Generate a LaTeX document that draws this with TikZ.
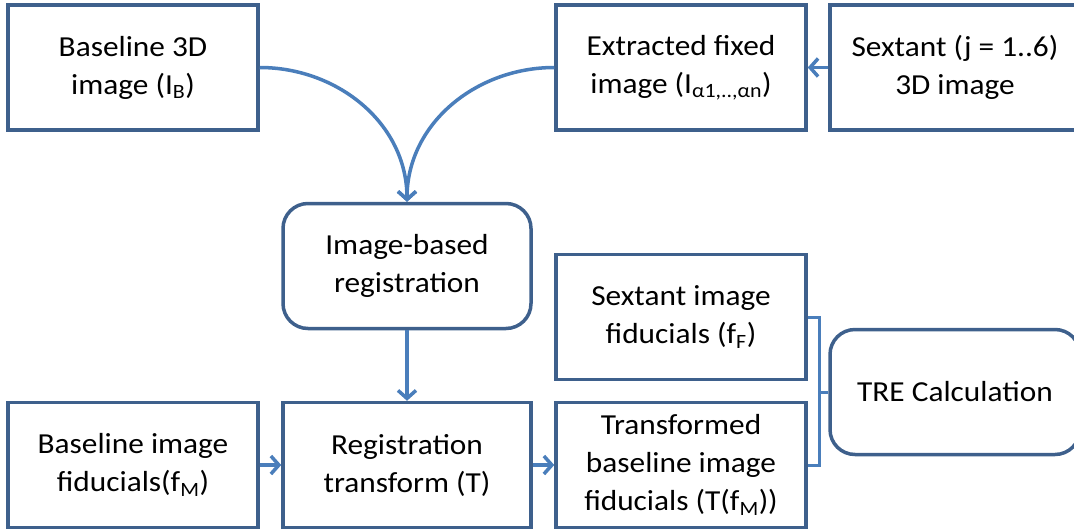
\documentclass[tikz,border=0pt]{standalone}
\usepackage{fontspec}
\setmainfont{Carlito}[FakeStretch=1.08]
\usetikzlibrary{arrows.meta}
\definecolor{boxblue}{RGB}{62,96,140}
\definecolor{linkblue}{RGB}{74,126,187}
\tikzset{
	box/.style={draw=boxblue,line width=3.5pt,minimum width=250pt,minimum height=125pt,align=center,inner sep=0pt,font=\fontsize{29}{38}\selectfont},
	procbox/.style={box,rounded corners=25pt},
	link/.style={draw=linkblue,line width=3.5pt,-{Straight Barb[length=8pt,width=18pt]}},
	brace/.style={draw=linkblue,line width=3pt},
}
\begin{document}
\begin{tikzpicture}[x=1pt,y=-1pt]
		\useasboundingbox (0,0) rectangle (1074,531);
		\clip (0,0) rectangle (1074,531);
		
		\node[box] (base3d) at (133,67.5) {Baseline 3D\\image (I\textsubscript{B})};
		\node[box] (extract) at (681,67.5) {Extracted fixed\\image (I\textsubscript{α1,..,αn})};
		\node[box] (sextant3d) at (955,67.5) {Sextant (j = 1..6)\\3D image};
		\node[procbox,minimum width=248pt] (imgreg) at (407,266) {Image-based\\registration};
		\node[box] (sexfid) at (681,317) {Sextant image\\fiducials (f\textsubscript{F})};
		\node[procbox] (tre) at (955,392) {TRE Calculation};
		\node[box] (basefid) at (133,465) {Baseline image\\fiducials(f\textsubscript{M})};
		\node[box,minimum width=248pt] (regtrans) at (407,465) {Registration\\transform (T)};
		\node[box] (transfid) at (681,465) {Transformed\\baseline image\\fiducials (T(f\textsubscript{M}))};
		
		\draw[link] (base3d.east) to[out=0,in=90] (imgreg.north);
		\draw[link] (extract.west) to[out=180,in=90] (imgreg.north);
		\draw[link] (sextant3d.west) -- (extract.east);
		\draw[link] (imgreg) -- (regtrans);
		\draw[link] (basefid) -- (regtrans);
		\draw[link] (regtrans) -- (transfid);
		
		\draw[brace] (sexfid.east) -- ++(12,0) coordinate (brk) |- (transfid.east);
		\draw[brace] (brk |- tre.west) -- (tre.west);
	\end{tikzpicture}
\end{document}
